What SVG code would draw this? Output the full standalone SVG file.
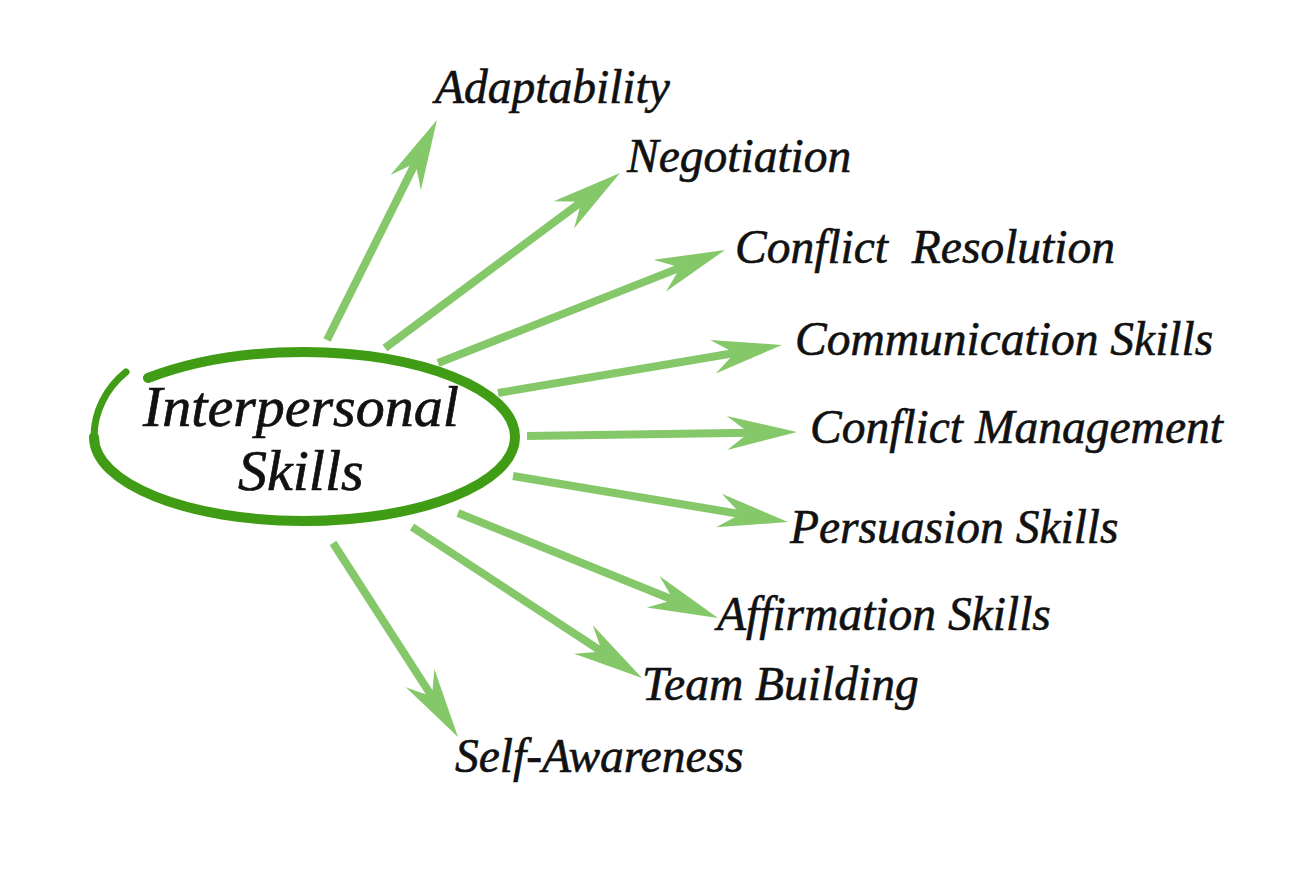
<svg xmlns="http://www.w3.org/2000/svg" width="1300" height="877" viewBox="0 0 1300 877">
<style>
.lbl{font-family:"Liberation Serif","Times New Roman",serif;font-style:italic;font-size:47.5px;fill:#111;stroke:#111;stroke-width:0.6}
.ctr{font-family:"Liberation Serif","Times New Roman",serif;font-style:italic;font-size:58px;fill:#111;stroke:#111;stroke-width:0.7}
.conn{stroke:#85c86a;stroke-width:8;fill:none;marker-end:url(#ah)}
.ring{stroke:#3f9c14;fill:none;stroke-linecap:round}
</style>
<defs>
<marker id="ah" markerUnits="userSpaceOnUse" viewBox="-72 -18 74 36" refX="-48" refY="0" markerWidth="74" markerHeight="36" orient="auto">
<path d="M0,0 L-70,-17 L-48,0 L-70,17 Z" fill="#85c86a"/>
</marker>
</defs>
<rect width="1300" height="877" fill="#fff"/>
<g id="connectors">
<line class="conn" x1="327" y1="340" x2="415.5" y2="162.9"/>
<line class="conn" x1="385" y1="348" x2="581.5" y2="201.7"/>
<line class="conn" x1="438" y1="363" x2="680.3" y2="267.6"/>
<line class="conn" x1="498" y1="393" x2="734.7" y2="353"/>
<line class="conn" x1="527" y1="436" x2="749" y2="432.7"/>
<line class="conn" x1="513" y1="476" x2="740.7" y2="514.1"/>
<line class="conn" x1="458" y1="513" x2="673.5" y2="600"/>
<line class="conn" x1="412" y1="527" x2="601.9" y2="651.6"/>
<line class="conn" x1="333" y1="543" x2="432" y2="696.6"/>
</g>
<g id="center">
<path class="ring" stroke-width="10" d="M148,378 C190,362 245,352 304,352 C420,352 515,390 515,437 C515,484 420,521 304,521 C188,521 94,484 94,437"/>
<path class="ring" stroke-width="7" d="M94,437 C94,412 106,388 126,372"/>
<text class="ctr" x="143" y="426">Interpersonal</text>
<text class="ctr" x="238" y="490">Skills</text>
</g>
<g id="n-adaptability"><text class="lbl" x="435" y="103">Adaptability</text></g>
<g id="n-negotiation"><text class="lbl" x="627" y="172">Negotiation</text></g>
<g id="n-conflict-resolution"><text class="lbl" x="735" y="263" xml:space="preserve">Conflict  Resolution</text></g>
<g id="n-communication"><text class="lbl" x="795" y="355">Communication Skills</text></g>
<g id="n-conflict-management"><text class="lbl" x="810" y="443">Conflict Management</text></g>
<g id="n-persuasion"><text class="lbl" x="790" y="543">Persuasion Skills</text></g>
<g id="n-affirmation"><text class="lbl" x="717" y="630">Affirmation Skills</text></g>
<g id="n-team-building"><text class="lbl" x="642" y="700">Team Building</text></g>
<g id="n-self-awareness"><text class="lbl" x="455" y="772">Self-Awareness</text></g>
</svg>
